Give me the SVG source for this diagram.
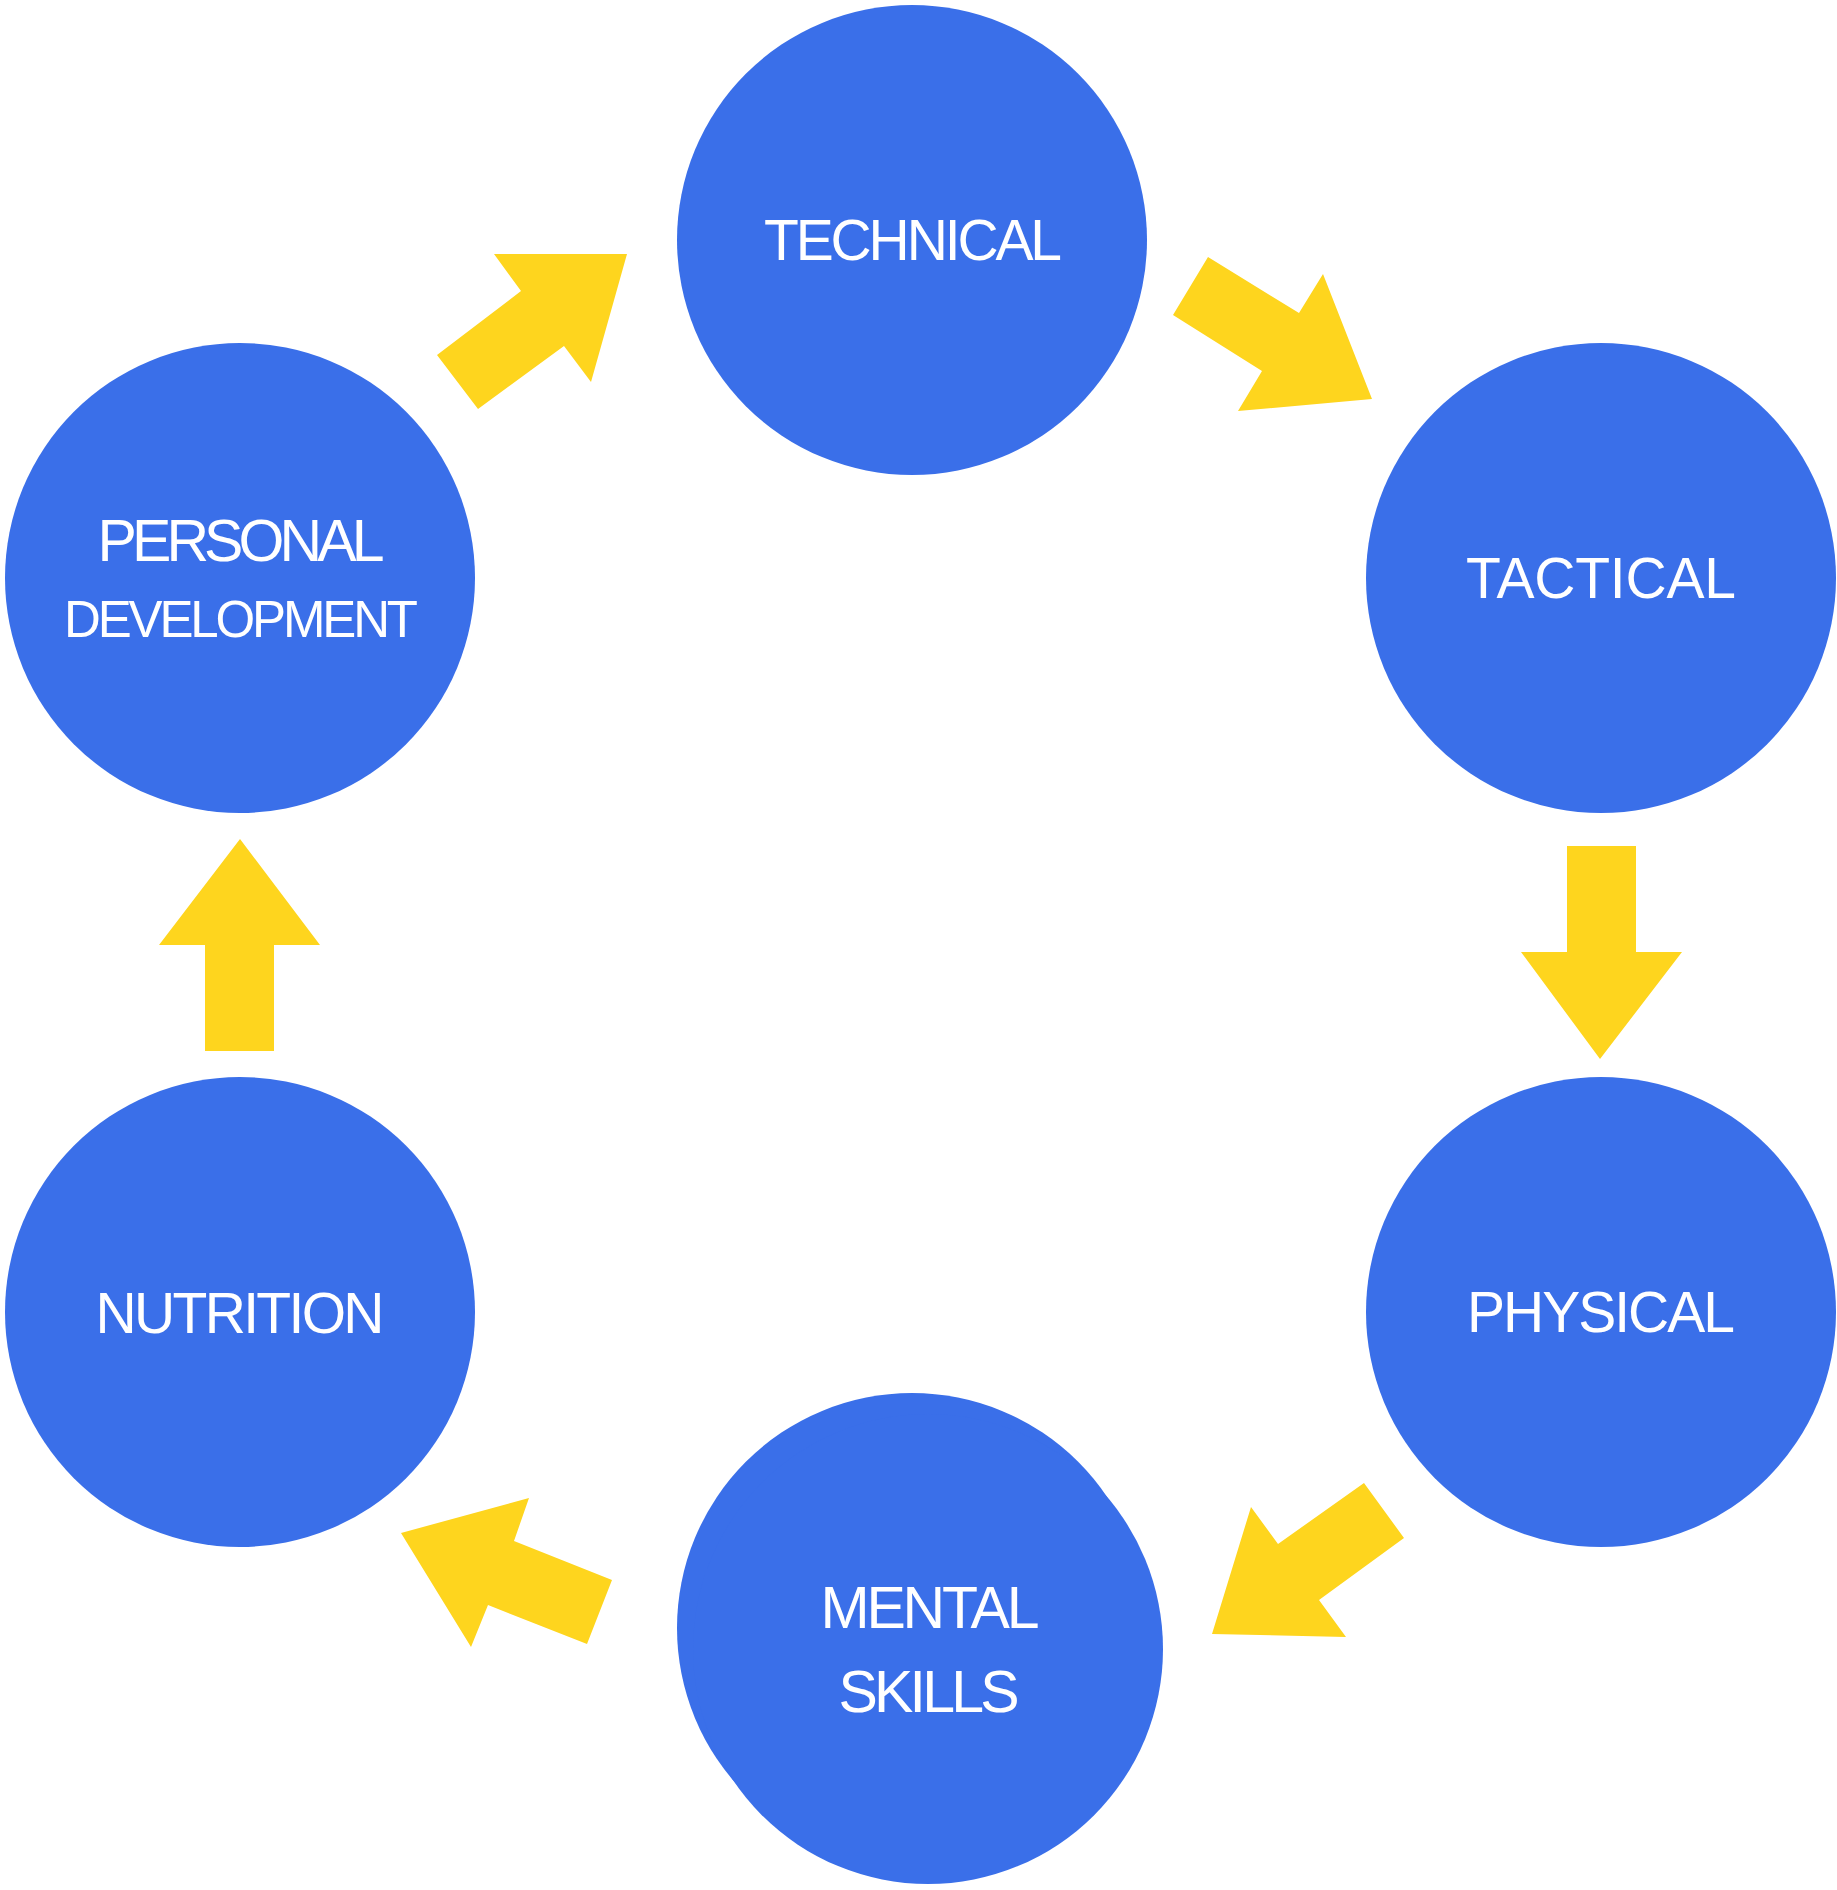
<svg xmlns="http://www.w3.org/2000/svg" width="1837" height="1890" viewBox="0 0 1837 1890">
<style>
.node{fill:#3A6FE9}
.arrow{fill:#FED51E}
.lbl{font-family:"Liberation Sans",Arial,sans-serif;font-size:57px;fill:#FFFFFF;text-anchor:middle}
</style>
<rect width="1837" height="1890" fill="#FFFFFF"/>
<g id="connectors">
<polygon class="arrow" points="494,254 627,254 591,382 564,346 478,409 437,355 521,291"/>
<polygon class="arrow" points="1208,257 1299,313 1323,274 1372,399 1238,411 1262,371 1173,315"/>
<polygon class="arrow" points="1567,846 1636,846 1636,952 1682,952 1600,1059 1521,952 1567,952"/>
<polygon class="arrow" points="1364,1483 1404,1538 1319,1600 1346,1637 1212,1634 1251,1507 1278,1544"/>
<polygon class="arrow" points="529,1498 514,1541 612,1580 587,1644 488,1605 471,1647 401,1533"/>
<polygon class="arrow" points="240,839 320,945 274,945 274,1051 205,1051 205,945 159,945"/>
</g>
<g id="technical">
<circle class="node" cx="912" cy="240" r="235"/>
<text class="lbl" x="913" y="260" textLength="298" lengthAdjust="spacing">TECHNICAL</text>
</g>
<g id="tactical">
<circle class="node" cx="1601" cy="578" r="235"/>
<text class="lbl" x="1601" y="598" textLength="270" lengthAdjust="spacing">TACTICAL</text>
</g>
<g id="physical">
<circle class="node" cx="1601" cy="1312" r="235"/>
<text class="lbl" x="1601" y="1332" textLength="268" lengthAdjust="spacing">PHYSICAL</text>
</g>
<g id="mental-skills">
<circle class="node" cx="912" cy="1628" r="235"/>
<circle class="node" cx="928" cy="1649" r="235"/>
<text class="lbl" x="930" y="1628" style="font-size:59px" textLength="219" lengthAdjust="spacing">MENTAL</text>
<text class="lbl" x="929" y="1712" style="font-size:59px" textLength="181" lengthAdjust="spacing">SKILLS</text>
</g>
<g id="nutrition">
<circle class="node" cx="240" cy="1312" r="235"/>
<text class="lbl" x="240" y="1333" textLength="289" lengthAdjust="spacing">NUTRITION</text>
</g>
<g id="personal-development">
<circle class="node" cx="240" cy="578" r="235"/>
<text class="lbl" x="241" y="561" style="font-size:59px" textLength="287" lengthAdjust="spacing">PERSONAL</text>
<text class="lbl" x="241" y="637" style="font-size:51px" textLength="354" lengthAdjust="spacing">DEVELOPMENT</text>
</g>
</svg>
